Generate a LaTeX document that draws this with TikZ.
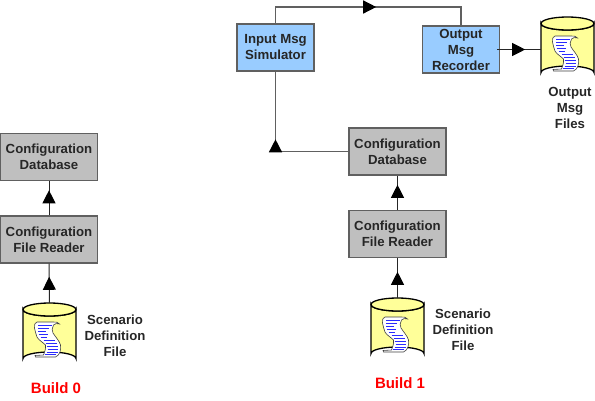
\documentclass[tikz,border=0pt]{standalone}
\usepackage{fontspec}
\setmainfont{Liberation Sans}
\usetikzlibrary{arrows.meta,decorations.markings}
\definecolor{boxgray}{HTML}{BFBFBF}
\definecolor{boxblue}{HTML}{99CCFF}
\definecolor{cylyellow}{HTML}{FFFF99}
\definecolor{edgegray}{HTML}{606060}
\definecolor{scrollblue}{HTML}{2A2AFF}
\definecolor{txt}{HTML}{262626}
\tikzset{
 x=1pt,y=-1pt,
 boxbase/.style={draw=edgegray,line width=1.4pt,minimum width=97pt,minimum height=47pt,inner sep=0pt,align=center,
   font=\fontsize{13.2}{16}\selectfont\bfseries,text=txt},
 graybox/.style={boxbase,fill=boxgray},
 bluebox/.style={boxbase,fill=boxblue,minimum width=77pt},
 cyllabel/.style={inner sep=0pt,align=center,font=\fontsize{13.2}{16}\selectfont\bfseries,text=txt},
 buildlabel/.style={inner sep=0pt,font=\fontsize{15}{18}\selectfont\bfseries,text=red},
 cylnode/.style={minimum width=53pt,minimum height=62pt,inner sep=0pt},
 link/.style={line width=1pt,draw=black!85},
 glink/.style={line width=1.4pt,draw=edgegray},
 tipat/.style={postaction={decorate},decoration={markings,mark=at position #1 with {\arrow{Triangle[length=13pt,width=13pt,black]}}}},
 pics/datacyl/.style={code={
   \draw[line width=1.3pt,fill=cylyellow] (-26.5,-24.5) -- (-26.5,24.5) arc[start angle=180,end angle=360,x radius=26.5,y radius=6.5] -- (26.5,-24.5) arc[start angle=0,end angle=-180,x radius=26.5,y radius=-6.5] -- cycle;
   \draw[line width=1.3pt,fill=cylyellow] (0,-24.5) ellipse[x radius=26.5,y radius=6.5];
   \draw[line width=.6pt,draw=black!75,fill=white]
     (-15,-6) .. controls (-15.5,-9) and (-14.5,-12) .. (-12.5,-12)
     -- (4,-12) .. controls (6,-12) and (9,-12) .. (10,-10)
     .. controls (8,-11) and (5,-10.5) .. (4,-9)
     .. controls (2.5,-6) and (2,-3) .. (3.5,-1)
     .. controls (6,3) and (10,7) .. (11,11)
     .. controls (11.5,15) and (11,21) .. (6,23)
     -- (-14,23) -- (-14.5,21.5) -- (-6,21)
     .. controls (-4,16) and (-3.5,13) .. (-4,11)
     .. controls (-7,8) and (-11,6) .. (-12.5,3)
     .. controls (-13.5,0) and (-14.5,-3) .. (-15,-6) -- cycle;
   \draw[line width=.95pt,scrollblue]
     (-11.5,-8.5)--(2,-8.5) (-11.5,-5.5)--(-1,-5.5) (-11.5,-2.5)--(-4,-2.5) (-11,0)--(-2,0) (-9,3)--(-3,3)
     (-6,6)--(5,6) (-4,9)--(7,9) (-3,12)--(8,12) (-2,15)--(8,15) (-3,18)--(8,18) (-5,20.5)--(6,20.5);
 }}
}
\begin{document}
\begin{tikzpicture}
\useasboundingbox (0,0) rectangle (595,400);
% Build 0
\node[graybox] (db0) at (49,157) {Configuration\\Database};
\node[graybox] (rd0) at (49,239.5) {Configuration\\File Reader};
\node[cylnode] (cyl0) at (49.5,334) {};
\pic at (cyl0.center) {datacyl};
\node[cyllabel] (lab0) at (115,336) {Scenario\\Definition\\File};
\node[buildlabel] (b0) at (56,388) {Build 0};
% Build 1
\node[graybox] (db1) at (397.5,151.5) {Configuration\\Database};
\node[graybox] (rd1) at (397.5,234) {Configuration\\File Reader};
\node[cylnode] (cyl1) at (397.5,329) {};
\pic at (cyl1.center) {datacyl};
\node[cyllabel] (lab1) at (463,330) {Scenario\\Definition\\File};
\node[buildlabel] (b1) at (400,383) {Build 1};
\node[bluebox] (in) at (275.5,47.5) {Input Msg\\Simulator};
\node[bluebox] (out) at (461,49.5) {Output\\Msg\\Recorder};
\node[cylnode] (cyl2) at (567.5,48) {};
\pic at (cyl2.center) {datacyl};
\node[cyllabel] (lab2) at (570,108) {Output\\Msg\\Files};
% connectors
\draw[link,tipat=26pt] (cyl0.north) -- (rd0.south);
\draw[link,tipat=25pt] (rd0.north) -- (db0.south);
\draw[link,tipat=26pt] (cyl1.north) -- (rd1.south);
\draw[link,tipat=25pt] (rd1.north) -- (db1.south);
\draw[glink,tipat=85pt] (db1.west) -| (in.south);
\coordinate (topy) at (0,7);
\draw[glink,tipat=117pt] (in.north) |- (topy -| out.north) -- (out.north);
\draw[link,tipat=28pt] (out.east) ++(-3,0) coordinate (ostart) (ostart) -- (ostart -| cyl2.west);
\end{tikzpicture}
\end{document}
